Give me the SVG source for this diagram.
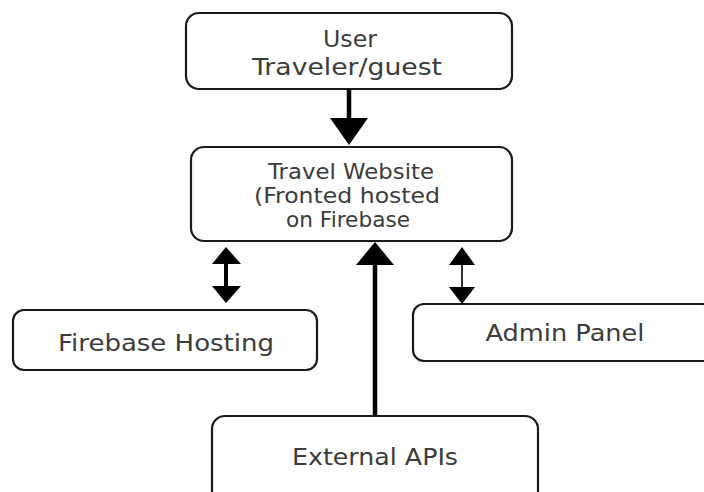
<svg xmlns="http://www.w3.org/2000/svg" width="704" height="492" viewBox="0 0 704 492">
<style>
.box{fill:#fff;stroke:#1a1a1a;stroke-width:2.2}
.t{font-family:"DejaVu Sans","Liberation Sans",sans-serif;fill:#3c3c3c;text-anchor:middle;font-size:23px}
.m{font-size:20.5px}
.a{fill:#000;stroke:none}
.s{stroke:#000;fill:none}
</style>
<rect width="704" height="492" fill="#fff"/>
<g id="user">
<rect class="box" x="186" y="13" width="326" height="76" rx="13"/>
<text class="t" x="350" y="47" textLength="54" lengthAdjust="spacingAndGlyphs">User</text>
<text class="t" x="347" y="75" textLength="190" lengthAdjust="spacingAndGlyphs">Traveler/guest</text>
</g>
<g id="website">
<rect class="box" x="191" y="147" width="321" height="94" rx="13"/>
<text class="t m" x="351" y="179" textLength="166" lengthAdjust="spacingAndGlyphs">Travel Website</text>
<text class="t m" x="347" y="203" textLength="186" lengthAdjust="spacingAndGlyphs">(Fronted hosted</text>
<text class="t m" x="348" y="227" textLength="124" lengthAdjust="spacingAndGlyphs">on Firebase</text>
</g>
<g id="hosting">
<rect class="box" x="13" y="310" width="304" height="60" rx="11"/>
<text class="t" x="166" y="351" textLength="216" lengthAdjust="spacingAndGlyphs">Firebase Hosting</text>
</g>
<g id="admin">
<rect class="box" x="413" y="304" width="300" height="57" rx="11"/>
<text class="t" x="565" y="341" textLength="159" lengthAdjust="spacingAndGlyphs">Admin Panel</text>
</g>
<g id="apis">
<rect class="box" x="212" y="416" width="326" height="90" rx="13"/>
<text class="t" x="375" y="465" textLength="166" lengthAdjust="spacingAndGlyphs">External APIs</text>
</g>
<g id="connectors">
<line class="s" x1="349" y1="89" x2="349" y2="120" stroke-width="4.5"/>
<polygon class="a" points="330,118 368,118 349,145"/>
<line class="s" x1="226" y1="262" x2="226" y2="288" stroke-width="4"/>
<polygon class="a" points="212,264 241,264 226,247"/>
<polygon class="a" points="212,286 241,286 226,303"/>
<line class="s" x1="375" y1="263" x2="375" y2="416" stroke-width="4.5"/>
<polygon class="a" points="356,265 394,265 375,242"/>
<line class="s" x1="462" y1="263" x2="462" y2="289" stroke-width="1.6"/>
<polygon class="a" points="449,265 475,265 462,247"/>
<polygon class="a" points="449,287 475,287 462,304"/>
</g>
</svg>
